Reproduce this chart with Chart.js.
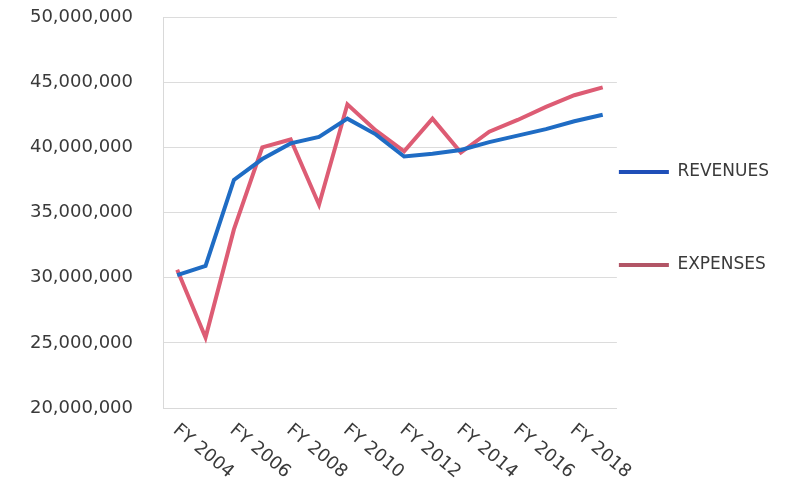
<!DOCTYPE html>
<html>
<head>
<meta charset="utf-8">
<script src="https://cdn.jsdelivr.net/npm/chart.js@4/dist/chart.umd.min.js"></script>
<style>
  html, body { margin: 0; padding: 0; background: #fff; }
  #wrap { width: 789px; height: 497px; }
</style>
</head>
<body>
<div id="wrap"><canvas id="budgetChart" width="789" height="497"></canvas></div>
<script>
const fiscalYears = ['FY 2004', 'FY 2005', 'FY 2006', 'FY 2007', 'FY 2008', 'FY 2009', 'FY 2010', 'FY 2011',
                     'FY 2012', 'FY 2013', 'FY 2014', 'FY 2015', 'FY 2016', 'FY 2017', 'FY 2018', 'FY 2019'];
const revenues = [30200000, 30900000, 37500000, 39100000, 40300000, 40800000, 42200000, 41000000,
                  39300000, 39500000, 39800000, 40400000, 40900000, 41400000, 42000000, 42500000];
const expenses = [30600000, 25400000, 33700000, 40000000, 40600000, 35600000, 43300000, 41300000,
                  39700000, 42200000, 39600000, 41200000, 42100000, 43100000, 44000000, 44600000];
const yMin = 20000000;
const yMax = 50000000;
const yStep = 5000000;

const textColor = '#3a3a3a';
const font = 'DejaVu Sans';

// year labels run down to the right from each other category
const slantedLabels = {
  id: 'slantedLabels',
  afterDraw(chart) {
    const { ctx } = chart;
    const x = chart.scales.x;
    ctx.save();
    ctx.font = '18px "' + font + '"';
    ctx.fillStyle = textColor;
    ctx.textAlign = 'left';
    ctx.textBaseline = 'middle';
    fiscalYears.forEach((label, i) => {
      if (i % 2) return;
      ctx.save();
      ctx.translate(x.getPixelForValue(i) - 2, x.top + 20);
      ctx.rotate(40 * Math.PI / 180);
      ctx.fillText(label, 0, 0);
      ctx.restore();
    });
    ctx.restore();
  }
};

const ctx = document.getElementById('budgetChart').getContext('2d');

new Chart(ctx, {
  type: 'line',
  data: {
    labels: fiscalYears,
    datasets: [{
      label: 'REVENUES',
      data: revenues,
      borderColor: '#1f6cc4',
      backgroundColor: '#1f4fb8',
      borderWidth: 4,
      pointRadius: 0,
      tension: 0
    }, {
      label: 'EXPENSES',
      data: expenses,
      borderColor: '#dd5c74',
      backgroundColor: '#b25566',
      borderWidth: 4,
      pointRadius: 0,
      tension: 0
    }]
  },
  options: {
    responsive: false,
    animation: false,
    layout: { padding: { top: 17, right: 10, bottom: 3, left: 0 } },
    scales: {
      x: {
        offset: true,
        grid: { display: false },
        border: { display: true, color: '#d9d9d9' },
        ticks: { display: false },
        afterFit(scale) { scale.height = 86; }
      },
      y: {
        min: yMin,
        max: yMax,
        // invisible tick marks keep the labels clear of the axis
        grid: { color: '#dcdcdc', drawTicks: true, tickLength: 26, tickColor: 'rgba(0,0,0,0)' },
        border: { display: true, color: '#d9d9d9' },
        ticks: {
          stepSize: yStep,
          padding: 4,
          color: textColor,
          font: { family: font, size: 18 },
          callback: v => v.toLocaleString('en-US')
        },
        afterFit(scale) { scale.width = 163; }
      }
    },
    plugins: {
      tooltip: { enabled: false },
      legend: {
        position: 'right',
        align: 'center',
        labels: {
          boxWidth: 50,
          boxHeight: 4,
          padding: 2,
          color: textColor,
          font: { family: font, size: 17, lineHeight: 45.5 / 17 },
          // a blank second line gives each entry its tall slot
          generateLabels(chart) {
            return Chart.defaults.plugins.legend.labels.generateLabels(chart)
              .map(item => Object.assign(item, { text: [item.text, ''], lineWidth: 0 }));
          }
        }
      }
    }
  },
  plugins: [slantedLabels]
});
</script>
</body>
</html>
